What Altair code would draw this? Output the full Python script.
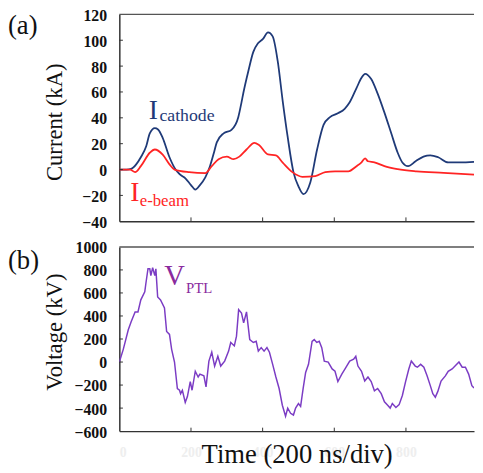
import altair as alt
import pandas as pd

# ---------------- data ----------------
cath_t = [0, 20, 33, 47, 60, 75, 85, 99, 108, 121, 140, 157, 170, 185, 200, 212, 225, 240,
          253, 265, 272, 291, 313, 332, 341, 346, 360, 374, 387, 401, 415, 428, 442, 456,
          470, 486, 500, 514, 533, 552, 570, 588, 610, 629, 643, 662, 676, 686, 703, 721,
          740, 759, 777, 790, 806, 827, 849, 868, 890, 918, 951, 990]
cath_i = [0, 0, 0.5, 4, 9.5, 18, 28, 32, 31, 24.5, 9.5, 0, -4, -7, -12, -15.5, -12, -6,
          2.6, 14, 21, 28, 30.7, 40.5, 52, 59, 76, 91, 97.6, 101, 106, 103, 84, 53,
          25, -2, -13, -19, -10, 15.5, 34.5, 40.5, 43.5, 47, 52, 63, 71, 74, 70, 58.7,
          44, 28, 13, 5.5, 2.6, 6.4, 10, 11, 9.5, 5.5, 5.5, 6]

beam_t = [0, 30, 44, 60, 85, 99, 121, 140, 154, 195, 240, 258, 277, 300, 319, 335, 355,
          377, 390, 415, 437, 456, 483, 511, 547, 575, 602, 639, 662, 676, 686, 694, 712,
          740, 777, 830, 905, 990]
beam_i = [0, 0, -2, 2.6, 13, 15.5, 11.5, 4, 0, -2, -2.7, 2.6, 8, 10, 8, 10, 15.5,
          20.7, 19, 11.7, 11, 5.4, -2, -5.6, -5, -2, -1.4, -1.4, 2.6, 5.6, 8.6, 6.4, 5.6,
          2.6, 0.3, -1.4, -2.6, -4]

volt_t = [0, 11, 25, 33, 44, 52, 60, 71, 74, 80, 85, 88, 93, 99, 102, 107, 115, 126,
          132, 140, 146, 154, 162, 168, 171, 176, 184, 190, 198, 203, 212, 220, 225, 236,
          242, 250, 258, 266, 275, 283, 294, 305, 311, 321, 327, 333, 341, 347, 355, 364,
          374, 382, 388, 396, 404, 412, 419, 428, 437, 446, 455, 464, 470, 478, 486, 492,
          500, 506, 513, 520, 528, 538, 544, 551, 558, 565, 572, 583, 594, 602, 610, 621,
          630, 643, 654, 660, 666, 676, 685, 694, 703, 712, 721, 731, 740, 749, 756, 762,
          772, 781, 790, 799, 808, 815, 826, 832, 841, 850, 859, 868, 875, 882, 889, 898,
          910, 918, 929, 937, 948, 957, 966, 975, 984, 990]
volt_v = [0, 110, 280, 350, 435, 435, 540, 610, 680, 810, 810, 750, 820, 750, 810, 565, 540, 470,
          265, 240, 110, 0, -230, -245, -275, -245, -350, -300, -170, -245, -80, -130, -105, -120,
          -215, 8, 85, -35, 50, -35, 8, 95, 170, 140, 225, 455, 425, 340, 435, 195,
          170, 180, 95, 125, 95, 125, 85, -20, -130, -230, -375, -470, -400, -445, -460, -400,
          -360, -385, -230, -90, -20, 180, 195, 170, 180, 125, 8, 0, -60, -80, -170, -105,
          -60, 8, 25, 50, -35, -80, -165, -130, -170, -250, -230, -275, -345, -375, -400, -360,
          -395, -370, -290, -170, -60, 8, -35, -45, -20, -45, -120, -205, -275, -305, -255, -165,
          -120, -80, -60, -35, 0, -45, -45, -105, -205, -225]

cur_ticks = [-40, -20, 0, 20, 40, 60, 80, 100, 120]
volt_ticks = [-600, -400, -200, 0, 200, 400, 600, 800, 1000]
time_ticks = [0, 200, 400, 600, 800, 1000]

# annotation texts and their anchor positions (data units)
ann_a = [("I", 95, 39, 28, "center", "cathode"), ("cathode", 112, 37.5, 18, "left", "cathode"),
         ("I", 43, -24, 28, "center", "ebeam"), ("e-beam", 57, -28, 17, "left", "ebeam")]
ann_b = [("V", 154, 666, 29, "center"), ("PTL", 186, 598, 15, "left")]

# ---------------- styling ----------------
SERIF = "Liberation Serif"
W, H1, H2 = 360, 210, 187
XMAX = 990
NAVY, RED, PURPLE_LINE, PURPLE_TXT = "#1f3a78", "#ff2424", "#7b3cc4", "#8a2a9e"
FRAME = "#333333"

cur = pd.concat([
    pd.DataFrame({"t": cath_t, "v": cath_i, "s": "cathode"}),
    pd.DataFrame({"t": beam_t, "v": beam_i, "s": "ebeam"}),
])
volt = pd.DataFrame({"t": volt_t, "v": volt_v})

xs = alt.Scale(domain=[0, XMAX], nice=False, zero=False)
ys1 = alt.Scale(domain=[-40, 120], nice=False, zero=False)
ys2 = alt.Scale(domain=[-600, 1000], nice=False, zero=False)

ylab = dict(labelFont=SERIF, labelFontSize=16, labelFontWeight="bold", labelColor="#111",
            labelPadding=13, labelOverlap=False, format="d", labelOffset=1,
            ticks=False, grid=False, domainColor=FRAME, domainWidth=1.5,
            titleFont=SERIF, titleFontSize=23, titleFontWeight="normal", titleColor="#111",
            titleX=-66, titleAlign="center", titleBaseline="middle")

X_A = alt.X("t:Q", scale=xs, axis=alt.Axis(labels=False, ticks=False, title=None, grid=False,
                                           domainColor=FRAME, domainWidth=1.5))
Y_A = alt.Y("v:Q", scale=ys1, axis=alt.Axis(values=cur_ticks, title="Current (kA)", titleY=109, **ylab))
X_B = alt.X("t:Q", scale=xs, axis=alt.Axis(
    values=time_ticks, labelFont=SERIF, labelFontSize=14, labelFontWeight="bold",
    labelColor="#eeeeee", labelPadding=15, labelOverlap=False, ticks=False, grid=False,
    domainColor=FRAME, domainWidth=1.5,
    title="Time (200 ns/div)", titleFont=SERIF, titleFontSize=27, titleFontWeight="normal",
    titleColor="#111", titleY=32, titleBaseline="alphabetic"))
Y_B = alt.Y("v:Q", scale=ys2, axis=alt.Axis(values=volt_ticks, title="Voltage (kV)", titleY=86, **ylab))

COL = alt.Color("s:N", scale=alt.Scale(domain=["cathode", "ebeam"], range=[NAVY, RED]), legend=None)


def frame_layers(X, Y, yticks, ymin, ymax, ylen):
    yt = pd.DataFrame({"t": 0, "t2": 10, "v": yticks[1:-1]})
    xt = pd.DataFrame({"t": time_ticks[1:-1], "v": ymin, "v2": ymin + ylen})
    top = pd.DataFrame({"t": [0], "t2": [XMAX], "v": [ymax]})
    return [
        alt.Chart(yt).mark_rule(color=FRAME, strokeWidth=1).encode(x=X, x2="t2:Q", y=Y),
        alt.Chart(xt).mark_rule(color=FRAME, strokeWidth=1).encode(x=X, y=Y, y2="v2:Q"),
        alt.Chart(top).mark_rule(color="#555", strokeWidth=1.5).encode(x=X, x2="t2:Q", y=Y),
    ]


# ---------------- panel (a) ----------------
lines_a = alt.Chart(cur).mark_line(strokeWidth=1.8, clip=True, interpolate="monotone").encode(
    x=X_A, y=Y_A, color=COL, detail="s:N")
txt_a = []
for txt, t, v, fs, al, s in ann_a:
    txt_a.append(alt.Chart(pd.DataFrame({"t": [t], "v": [v], "s": [s]})).mark_text(
        text=txt, font=SERIF, fontSize=fs, align=al, baseline="alphabetic").encode(x=X_A, y=Y_A, color=COL))
lab_a = alt.Chart(pd.DataFrame({"a": [0]})).mark_text(
    text="(a)", font=SERIF, fontSize=27, align="left", baseline="middle", color="#111").encode(
    x=alt.value(-113), y=alt.value(12))

panel_a = alt.layer(lines_a, *frame_layers(X_A, Y_A, cur_ticks, -40, 120, 3), *txt_a, lab_a).properties(
    width=W, height=H1)

# ---------------- panel (b) ----------------
line_b = alt.Chart(volt).mark_line(strokeWidth=1.5, color=PURPLE_LINE, clip=True).encode(x=X_B, y=Y_B)
txt_b = []
for txt, t, v, fs, al in ann_b:
    txt_b.append(alt.Chart(pd.DataFrame({"t": [t], "v": [v]})).mark_text(
        text=txt, font=SERIF, fontSize=fs, align=al, baseline="alphabetic", color=PURPLE_TXT).encode(
        x=X_B, y=Y_B))
lab_b = alt.Chart(pd.DataFrame({"a": [0]})).mark_text(
    text="(b)", font=SERIF, fontSize=27, align="left", baseline="middle", color="#111").encode(
    x=alt.value(-113), y=alt.value(14))

panel_b = alt.layer(line_b, *frame_layers(X_B, Y_B, volt_ticks, -600, 1000, 30), *txt_b, lab_b).properties(
    width=W, height=H2)

chart = alt.vconcat(panel_a, panel_b, spacing=10).properties(
    padding={"left": 0, "top": -4, "right": 0, "bottom": 0}, background="white"
).configure_view(stroke=None)

chart.save("out.html", embed_options={"renderer": "svg", "actions": False})
